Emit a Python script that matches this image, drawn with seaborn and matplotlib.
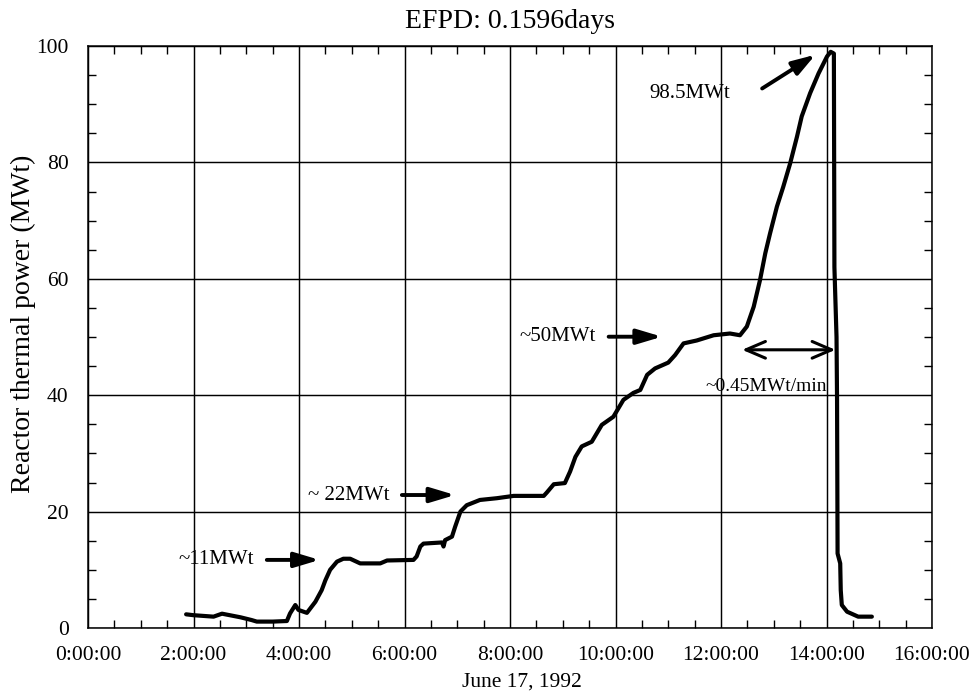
import matplotlib
matplotlib.use("Agg")
import matplotlib.pyplot as plt
from matplotlib.ticker import MultipleLocator
import pandas as pd
import seaborn as sns

# ---------------- data ----------------
time_hours = [1.86, 2.00, 2.38, 2.54, 2.89, 3.10, 3.20, 3.50, 3.77, 3.83, 3.93,
              3.99, 4.15, 4.31, 4.43, 4.50, 4.59, 4.72, 4.84, 4.97, 5.16, 5.54,
              5.67, 6.17, 6.23, 6.30, 6.36, 6.71, 6.74, 6.77, 6.90, 6.96, 7.06,
              7.18, 7.43, 7.75, 8.07, 8.64, 8.70, 8.83, 9.04, 9.14, 9.24, 9.36,
              9.55, 9.74, 9.96, 10.15, 10.34, 10.47, 10.60, 10.75, 11.00, 11.13,
              11.29, 11.54, 11.86, 12.17, 12.36, 12.49, 12.62, 12.74, 12.84,
              12.93, 13.06, 13.18, 13.31, 13.44, 13.53, 13.69, 13.85, 14.01,
              14.08, 14.14, 14.15, 14.19, 14.20, 14.21, 14.26, 14.27, 14.29,
              14.39, 14.60, 14.86]
power_mwt = [2.35, 2.2, 1.95, 2.46, 1.84, 1.37, 1.1, 1.1, 1.2, 2.5, 3.95,
             3.1, 2.6, 4.5, 6.5, 8.2, 10.0, 11.4, 11.9, 11.9, 11.1, 11.1,
             11.6, 11.7, 12.3, 14.0, 14.5, 14.7, 14.0, 15.1, 15.7, 17.4, 20.0,
             21.1, 22.0, 22.3, 22.7, 22.7, 23.3, 24.7, 24.9, 26.9, 29.4, 31.2,
             32.0, 34.9, 36.3, 39.2, 40.4, 40.9, 43.5, 44.6, 45.6, 46.9,
             48.9, 49.4, 50.3, 50.6, 50.3, 51.8, 55.2, 59.8, 64.4,
             67.8, 72.4, 75.8, 79.8, 84.4, 87.9, 91.9, 95.3, 98.2,
             99.0, 98.7, 62.0, 50.0, 39.2, 12.8, 11.1, 6.5, 3.95,
             2.8, 1.95, 1.95]

x_ticks = [0, 2, 4, 6, 8, 10, 12, 14, 16]
x_tick_labels = ["0:00:00", "2:00:00", "4:00:00", "6:00:00", "8:00:00",
                 "10:00:00", "12:00:00", "14:00:00", "16:00:00"]
y_ticks = [0, 20, 40, 60, 80, 100]

title_text = "EFPD: 0.1596days"
x_label = "June 17, 1992"
y_label = "Reactor thermal power (MWt)"

# annotation texts and their anchor positions (data units)
ann_texts = ["~11MWt", "~ 22MWt", "~50MWt", "98.5MWt"]
ann_text_x = [2.43, 4.95, 8.91, 11.40]
ann_text_y = [11.7, 22.85, 50.05, 91.9]
arrow_tail_x = [3.39, 5.95, 9.87]
arrow_tip_x = [4.39, 6.96, 10.88]
arrow_y = [11.7, 22.85, 50.05]
peak_arrow_tail = (12.78, 92.7)
peak_arrow_tip = (13.79, 98.5)
rate_text = "~0.45MWt/min"
rate_text_pos = (12.86, 41.5)
rate_arrow_x = [12.40, 14.17]
rate_arrow_y = 47.8

df = pd.DataFrame({"time": time_hours, "power": power_mwt})

# ---------------- style ----------------
sns.set_theme(style="white")
plt.rcParams["font.family"] = ["Liberation Serif", "DejaVu Serif"]
plt.rcParams["axes.edgecolor"] = "black"
plt.rcParams["axes.linewidth"] = 1.1

fig = plt.figure(figsize=(9.69, 6.93), dpi=100)
ax = fig.add_axes([88 / 969, 1 - 628 / 693, (932 - 88) / 969, (628 - 46) / 693])

sns.lineplot(data=df, x="time", y="power", sort=False, estimator=None,
             color="black", linewidth=3.0, ax=ax)

ax.set_xlim(0, 16)
ax.set_ylim(0, 100)

ax.xaxis.set_major_locator(plt.FixedLocator(x_ticks))
ax.set_xticklabels(x_tick_labels)
ax.xaxis.set_minor_locator(MultipleLocator(0.5))
ax.yaxis.set_major_locator(plt.FixedLocator(y_ticks))
ax.yaxis.set_minor_locator(MultipleLocator(5))

ax.grid(True, which="major", color="black", linewidth=1.05)
ax.tick_params(which="major", length=0, labelsize=15.5, colors="black")
ax.tick_params(axis="x", which="major", pad=13)
ax.tick_params(axis="y", which="major", pad=14)
ax.tick_params(which="minor", direction="in", length=5.5, width=1.0,
               top=True, bottom=True, left=True, right=True, color="black")
for s in ax.spines.values():
    s.set_visible(True)
    s.set_color("black")

ax.set_title(title_text, fontsize=20, pad=13, color="black")
ax.set_xlabel(x_label, fontsize=15.5, color="black", va="center")
ax.xaxis.set_label_coords((522 - 88) / 844, (628 - 681.7) / 582)
ax.set_ylabel(y_label, fontsize=20, color="black", va="center")
ax.yaxis.set_label_coords((23 - 88) / 844, (628 - 323.5) / 582)

# annotations
for txt, tx, ty in zip(ann_texts, ann_text_x, ann_text_y):
    ax.text(tx, ty, txt, fontsize=15, ha="center", va="center", color="black")
for x0, x1, yy in zip(arrow_tail_x, arrow_tip_x, arrow_y):
    ax.annotate("", xy=(x1, yy), xytext=(x0, yy),
                arrowprops=dict(arrowstyle="-|>,head_length=1.5,head_width=0.45",
                                mutation_scale=10, lw=2.8, color="black",
                                shrinkA=0, shrinkB=0))
ax.annotate("", xy=peak_arrow_tip, xytext=peak_arrow_tail,
            arrowprops=dict(arrowstyle="-|>,head_length=1.4,head_width=0.45",
                            mutation_scale=10, lw=2.8, color="black",
                            shrinkA=0, shrinkB=0))
ax.annotate("", xy=(rate_arrow_x[1], rate_arrow_y), xytext=(rate_arrow_x[0], rate_arrow_y),
            arrowprops=dict(arrowstyle="<->,head_length=1.4,head_width=0.6",
                            mutation_scale=10, lw=2.2, color="black",
                            shrinkA=0, shrinkB=0))
ax.text(rate_text_pos[0], rate_text_pos[1], rate_text, fontsize=14,
        ha="center", va="center", color="black")

fig.savefig("out.png", dpi=100)
